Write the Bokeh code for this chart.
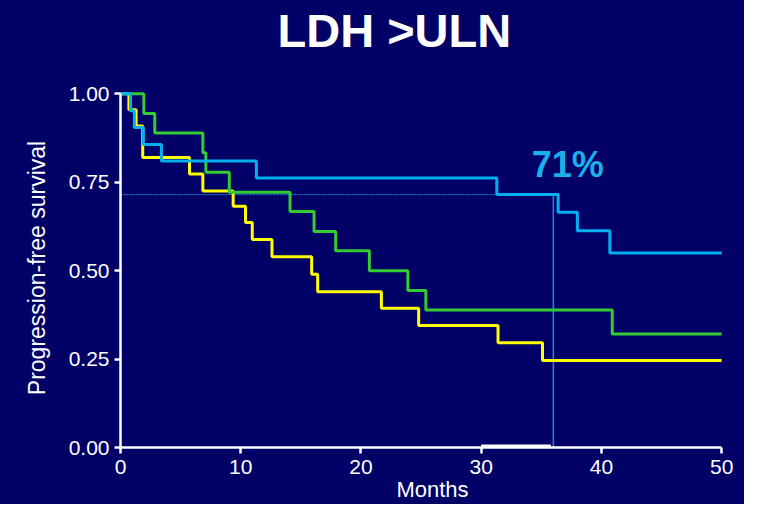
from bokeh.plotting import figure
from bokeh.models import Range1d, FixedTicker, Label, Title
from bokeh.embed import file_html
from bokeh.resources import INLINE

# ---- data ----
blue_t = [0, 0.83, 1.15, 1.9, 3.4, 11.3, 31.3, 36.4, 38.0, 40.7, 50]
blue_s = [1.0, 0.952, 0.905, 0.857, 0.81, 0.762, 0.715, 0.665, 0.613, 0.55, 0.55]

green_t = [0, 1.94, 2.85, 6.85, 7.1, 9.05, 14.1, 16.1, 17.9, 20.7, 23.9, 25.4, 40.9, 50]
green_s = [1.0, 0.944, 0.889, 0.833, 0.778, 0.722, 0.667, 0.611, 0.556, 0.5, 0.444, 0.389, 0.321, 0.321]

yellow_t = [0, 0.7, 1.3, 1.85, 5.74, 6.85, 9.37, 10.4, 10.96, 12.6, 15.9, 16.4, 21.7, 24.8, 31.4, 35.1, 50]
yellow_s = [1.0, 0.955, 0.909, 0.82, 0.773, 0.725, 0.682, 0.636, 0.588, 0.539, 0.49, 0.44, 0.394, 0.345, 0.296, 0.246, 0.246]

landmark_month = 36
landmark_surv = 0.715
landmark_text = "71%"

x_ticks = [0, 10, 20, 30, 40, 50]
x_tick_labels = ["0", "10", "20", "30", "40", "50"]
y_ticks = [0, 0.25, 0.5, 0.75, 1.0]
y_tick_labels = ["0.00", "0.25", "0.50", "0.75", "1.00"]

title_text = "LDH >ULN"
x_label = "Months"
y_label = "Progression-free survival"

BG = "#000066"
FONT = "Liberation Sans"

p = figure(width=744, height=504, output_backend="svg", toolbar_location=None, title=None,
           x_range=Range1d(0, 51.9), y_range=Range1d(0, 1.015),
           min_border_left=120, min_border_right=0, min_border_top=88, min_border_bottom=57)
p.styles = {"background-color": BG}
p.background_fill_color = BG
p.border_fill_color = None
p.outline_line_color = None
p.xgrid.visible = False
p.ygrid.visible = False

# spacer between frame and title (first "above" panel sits next to the frame)
p.add_layout(Title(text=" ", text_font_size="1px", standoff=29), "above")
p.add_layout(Title(text=title_text, text_color="white", text_font=FONT,
                   text_font_style="bold", text_font_size="47px",
                   align="left", offset=157, standoff=0), "above")

for ax, ticks, labels in ((p.xaxis[0], x_ticks, x_tick_labels), (p.yaxis[0], y_ticks, y_tick_labels)):
    ax.ticker = FixedTicker(ticks=ticks)
    ax.major_label_overrides = {t: l for t, l in zip(ticks, labels)}
    ax.bounds = (ticks[0], ticks[-1])
    ax.axis_line_color = "white"
    ax.axis_line_width = 2.5
    ax.major_tick_line_color = "white"
    ax.major_tick_line_width = 2.5
    ax.major_tick_in = 0
    ax.major_tick_out = 6
    ax.minor_tick_line_color = None
    ax.major_label_text_color = "white"
    ax.major_label_text_font = FONT
    ax.major_label_text_font_size = "21px"
    ax.axis_label_text_color = "white"
    ax.axis_label_text_font = FONT
    ax.axis_label_text_font_style = "normal"

p.xaxis.major_label_standoff = 6
p.xaxis.axis_label = x_label
p.xaxis.axis_label_text_font_size = "22px"
p.xaxis.axis_label_standoff = 0
p.yaxis.major_label_standoff = 5
p.yaxis.axis_label = y_label
p.yaxis.axis_label_text_font_size = "23px"
p.yaxis.axis_label_standoff = 16

# reference guide lines
p.segment(x0=[0], y0=[landmark_surv], x1=[landmark_month], y1=[landmark_surv],
          line_color="#1a90d0", line_width=1, line_dash="2 1")
p.segment(x0=[landmark_month], y0=[0], x1=[landmark_month], y1=[landmark_surv],
          line_color="#1a8ccc", line_width=1.5)
p.segment(x0=[30], y0=[0], x1=[35.8], y1=[0], line_color="white", line_width=6)

p.step(yellow_t, yellow_s, mode="after", line_color="#ffff00", line_width=3)
p.step(green_t, green_s, mode="after", line_color="#33cc33", line_width=3)
p.step(blue_t, blue_s, mode="after", line_color="#00b0f0", line_width=3)

p.add_layout(Label(x=37.2, y=0.80, text=landmark_text, text_color="#1ab0e8",
                   text_font=FONT, text_font_style="bold", text_font_size="36px",
                   text_align="center", text_baseline="middle"))

open("out.html", "w").write(file_html(p, INLINE))
